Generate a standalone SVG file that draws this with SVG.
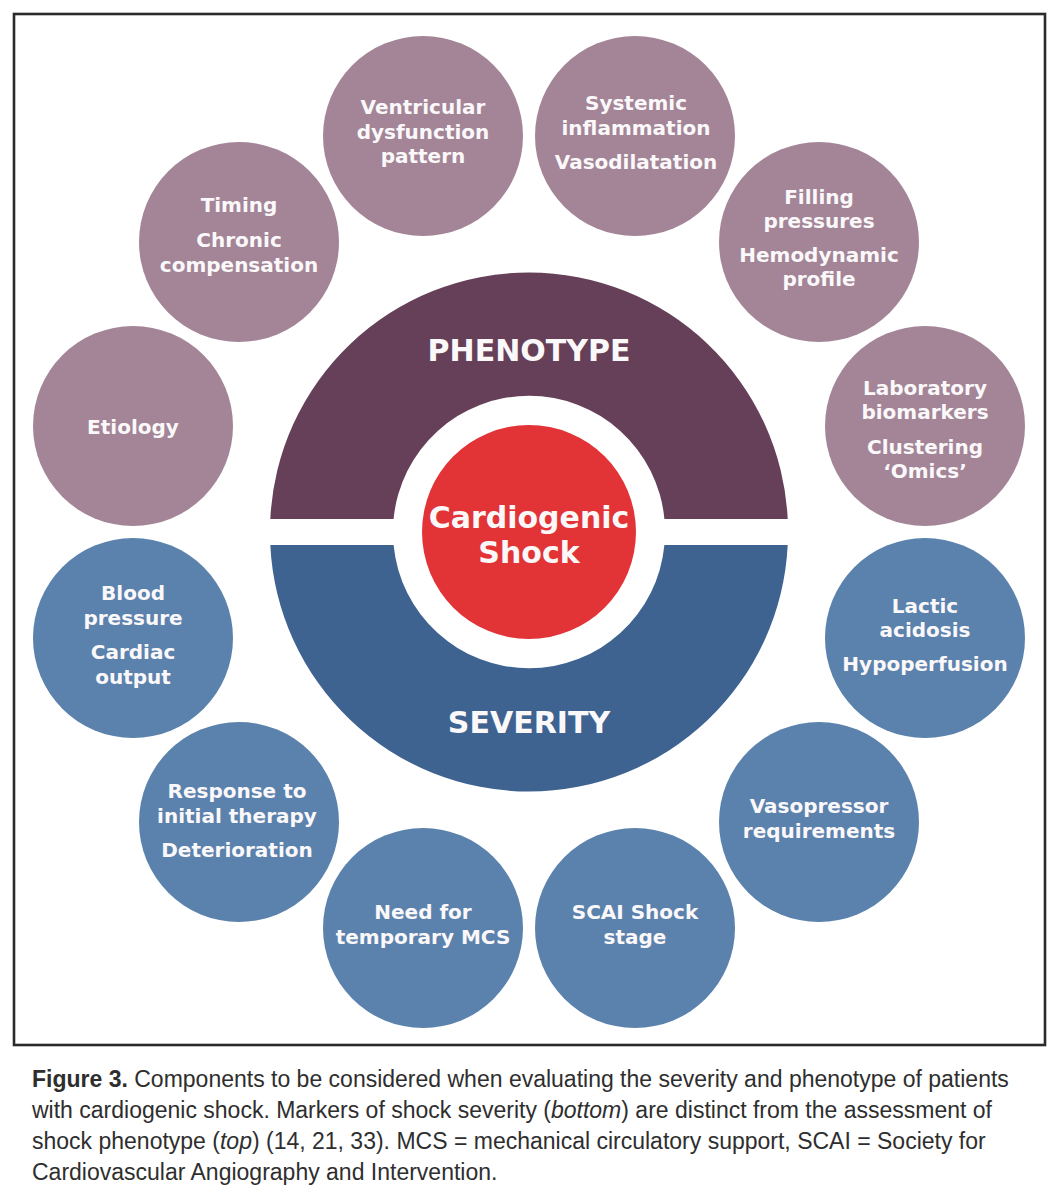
<svg xmlns="http://www.w3.org/2000/svg" width="1064" height="1200" viewBox="0 0 1064 1200">
<defs>
<style>
.bg{fill:#ffffff}
.frame{fill:none;stroke:#2a2a2a;stroke-width:2.6}
.ph{fill:#a38597}
.sv{fill:#5b82ad}
.phband{fill:#664059}
.svband{fill:#3e6391}
.core{fill:#e23437}
.lbl{font-family:"DejaVu Sans",Verdana,sans-serif;font-weight:bold;font-size:20px;fill:#fbf8fa;text-anchor:middle}
.big{font-family:"DejaVu Sans",Verdana,sans-serif;font-weight:bold;font-size:30px;fill:#fbf8fa;text-anchor:middle}
.cap{font-family:"Liberation Sans",Arial,sans-serif;font-size:23px;fill:#2e2e2e}
</style>
</defs>
<rect class="bg" x="0" y="0" width="1064" height="1200"/>
<rect class="frame" x="14" y="14" width="1031" height="1031"/>

<g id="phenotype">
<path class="phband" d="M 270.3 519 A 259 259 0 0 1 787.7 519 L 664.4 519 A 136 136 0 0 0 393.6 519 Z"/>
<text class="big" x="529" y="361">PHENOTYPE</text>
</g>
<g id="severity">
<path class="svband" d="M 270.3 545 A 259 259 0 0 0 787.7 545 L 664.4 545 A 136 136 0 0 1 393.6 545 Z"/>
<text class="big" x="529" y="733">SEVERITY</text>
</g>
<g id="cardiogenic-shock">
<circle class="core" cx="529" cy="532" r="107"/>
<text class="big" x="529" y="528">Cardiogenic</text>
<text class="big" x="529" y="563">Shock</text>
</g>

<g id="ventricular">
<circle class="ph" cx="423" cy="136" r="100"/>
<text class="lbl" x="423" y="114">Ventricular</text>
<text class="lbl" x="423" y="139">dysfunction</text>
<text class="lbl" x="423" y="163">pattern</text>
</g>
<g id="systemic">
<circle class="ph" cx="635" cy="136" r="100"/>
<text class="lbl" x="636" y="110">Systemic</text>
<text class="lbl" x="636" y="135">inflammation</text>
<text class="lbl" x="636" y="169">Vasodilatation</text>
</g>
<g id="timing">
<circle class="ph" cx="239" cy="242" r="100"/>
<text class="lbl" x="239" y="212">Timing</text>
<text class="lbl" x="239" y="247">Chronic</text>
<text class="lbl" x="239" y="272">compensation</text>
</g>
<g id="filling">
<circle class="ph" cx="819" cy="242" r="100"/>
<text class="lbl" x="819" y="204">Filling</text>
<text class="lbl" x="819" y="228">pressures</text>
<text class="lbl" x="819" y="262">Hemodynamic</text>
<text class="lbl" x="819" y="286">profile</text>
</g>
<g id="etiology">
<circle class="ph" cx="133" cy="426" r="100"/>
<text class="lbl" x="133" y="434">Etiology</text>
</g>
<g id="laboratory">
<circle class="ph" cx="925" cy="426" r="100"/>
<text class="lbl" x="925" y="395">Laboratory</text>
<text class="lbl" x="925" y="419">biomarkers</text>
<text class="lbl" x="925" y="454">Clustering</text>
<text class="lbl" x="925" y="478">‘Omics’</text>
</g>
<g id="blood-pressure">
<circle class="sv" cx="133" cy="638" r="100"/>
<text class="lbl" x="133" y="600">Blood</text>
<text class="lbl" x="133" y="625">pressure</text>
<text class="lbl" x="133" y="659">Cardiac</text>
<text class="lbl" x="133" y="684">output</text>
</g>
<g id="lactic">
<circle class="sv" cx="925" cy="638" r="100"/>
<text class="lbl" x="925" y="613">Lactic</text>
<text class="lbl" x="925" y="637">acidosis</text>
<text class="lbl" x="925" y="671">Hypoperfusion</text>
</g>
<g id="response">
<circle class="sv" cx="239" cy="822" r="100"/>
<text class="lbl" x="237" y="798">Response to</text>
<text class="lbl" x="237" y="823">initial therapy</text>
<text class="lbl" x="237" y="857">Deterioration</text>
</g>
<g id="vasopressor">
<circle class="sv" cx="819" cy="822" r="100"/>
<text class="lbl" x="819" y="813">Vasopressor</text>
<text class="lbl" x="819" y="838">requirements</text>
</g>
<g id="mcs">
<circle class="sv" cx="423" cy="928" r="100"/>
<text class="lbl" x="423" y="919">Need for</text>
<text class="lbl" x="423" y="944">temporary MCS</text>
</g>
<g id="scai">
<circle class="sv" cx="635" cy="928" r="100"/>
<text class="lbl" x="635" y="919">SCAI Shock</text>
<text class="lbl" x="635" y="944">stage</text>
</g>

<g id="connectors"></g>

<g id="caption">
<text class="cap" x="32" y="1087"><tspan font-weight="bold">Figure 3.</tspan> Components to be considered when evaluating the severity and phenotype of patients</text>
<text class="cap" x="32" y="1118">with cardiogenic shock. Markers of shock severity (<tspan font-style="italic">bottom</tspan>) are distinct from the assessment of</text>
<text class="cap" x="32" y="1149">shock phenotype (<tspan font-style="italic">top</tspan>) (14, 21, 33). MCS = mechanical circulatory support, SCAI = Society for</text>
<text class="cap" x="32" y="1180">Cardiovascular Angiography and Intervention.</text>
</g>
</svg>
